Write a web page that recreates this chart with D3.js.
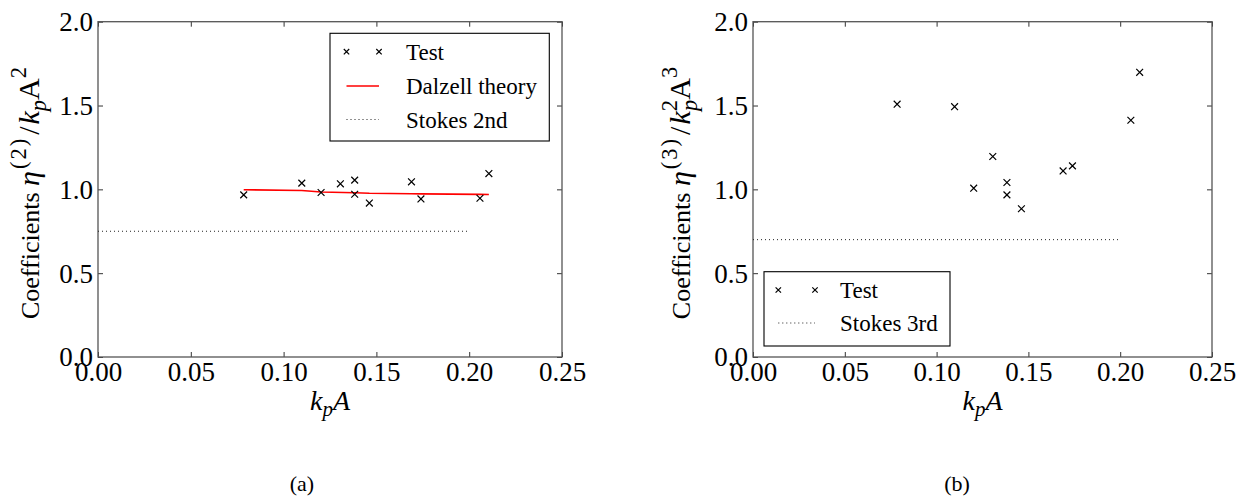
<!DOCTYPE html>
<html><head><meta charset="utf-8">
<script src="https://cdn.jsdelivr.net/npm/d3@7"></script>
</head><body style="margin:0">
<svg id="c" width="1255" height="500" font-family="Liberation Serif"></svg>
<script>
// ---- data ----
const kpA   = [0.0785,0.1098,0.1202,0.1306,0.1383,0.1383,0.1462,0.1689,0.1740,0.2058,0.2106];
const coef2 = [0.967,1.037,0.981,1.033,1.055,0.971,0.918,1.045,0.943,0.947,1.094];
const coef3 = [1.508,1.493,1.007,1.196,1.041,0.967,0.884,1.110,1.140,1.412,1.698];
const dalzellX = [0.0785,0.1098,0.1202,0.1383,0.1462,0.1689,0.1740,0.2058,0.2106];
const dalzellY = [0.998,0.993,0.984,0.980,0.977,0.974,0.973,0.970,0.969];
const stokesX  = [0.0,0.2];
const stokes2Y = [0.75,0.75];
const stokes3Y = [0.70,0.70];
const xTicks = [0,0.05,0.10,0.15,0.20,0.25];
const xTickLabels = ["0.00","0.05","0.10","0.15","0.20","0.25"];
const yTicks = [0,0.5,1.0,1.5,2.0];
const yTickLabels = ["0.0","0.5","1.0","1.5","2.0"];

const FONT = "Liberation Serif";
const svg = d3.select("#c");
const TICK = 27, LEG = 23, LAB = 26, MATH = 30, TL = 5;

// segments: t text, it italic, sh sup/sub, m use math size, dx shift, ls letter spacing
function rich(sel, segs, size){
  let cur = 0;
  segs.forEach(s=>{
    const base = s.m ? MATH : size;
    let target = 0, fs = base;
    if (s.sh==="sup"){target=-0.45*base; fs=base*0.75;}
    if (s.sh==="sub"){target=0.22*base; fs=base*0.75;}
    const t = sel.append("tspan").text(s.t).attr("font-size",fs).attr("dy", target-cur);
    if (s.it) t.attr("font-style","italic");
    if (s.dx) t.attr("dx", s.dx);
    if (s.ls) t.attr("letter-spacing", s.ls);
    cur = target;
  });
}

function panel(opt){
  const x = d3.scaleLinear().domain([0,0.25]).range([opt.x0,opt.x1]);
  const y = d3.scaleLinear().domain([0,2]).range([357,21.7]);
  const g = svg.append("g");

  const ab = g.append("g").attr("transform",`translate(0,${y(0)})`)
    .call(d3.axisBottom(x).tickValues(xTicks).tickFormat((d,i)=>xTickLabels[i])
      .tickSizeInner(-TL).tickSizeOuter(0));
  g.append("g").attr("transform",`translate(0,${y(2)})`)
    .call(d3.axisTop(x).tickValues(xTicks).tickFormat("").tickSizeInner(-TL).tickSizeOuter(0));
  const al = g.append("g").attr("transform",`translate(${x(0)},0)`)
    .call(d3.axisLeft(y).tickValues(yTicks).tickFormat((d,i)=>yTickLabels[i])
      .tickSizeInner(-TL).tickSizeOuter(0).tickPadding(5));
  g.append("g").attr("transform",`translate(${x(0.25)},0)`)
    .call(d3.axisRight(y).tickValues(yTicks).tickFormat("").tickSizeInner(-TL).tickSizeOuter(0));
  g.selectAll("g").attr("font-family",FONT).attr("font-size",TICK);
  ab.selectAll("text").attr("y",23.5).attr("dy",0);
  al.selectAll("text").attr("dy","0.33em");
  g.selectAll(".domain").remove();
  g.selectAll(".tick line").attr("stroke","#333").attr("stroke-width",1);
  g.selectAll(".tick text").attr("fill","#000");

  g.append("rect").attr("x",x(0)).attr("y",y(2)).attr("width",x(0.25)-x(0)).attr("height",y(0)-y(2))
    .attr("fill","none").attr("stroke","#555").attr("stroke-width",1.3);

  g.append("path").datum(stokesX.map((d,i)=>[d,opt.stokesY[i]]))
    .attr("d",d3.line().x(d=>x(d[0])).y(d=>y(d[1])))
    .attr("fill","none").attr("stroke","#222").attr("stroke-width",1).attr("stroke-dasharray","1,3");

  if (opt.line){
    g.append("path").datum(opt.line[0].map((d,i)=>[d,opt.line[1][i]]))
      .attr("d",d3.line().x(d=>x(d[0])).y(d=>y(d[1])))
      .attr("fill","none").attr("stroke","#ff0000").attr("stroke-width",1.6);
  }

  const cross = (sel, s) => sel.append("path")
    .attr("d",`M${-s},${-s}L${s},${s}M${-s},${s}L${s},${-s}`)
    .attr("stroke","#000").attr("stroke-width",1.2).attr("fill","none");
  kpA.forEach((d,i)=>{
    cross(g.append("g").attr("transform",`translate(${x(d)},${y(opt.vals[i])})`),3.4);
  });

  const yl = g.append("text").attr("transform",`translate(${opt.ylx},193) rotate(-90)`)
    .attr("text-anchor","middle").attr("font-size",LAB);
  rich(yl, opt.ylab, LAB);

  const xl = g.append("text").attr("x",(x(0)+x(0.25))/2).attr("y",410)
    .attr("text-anchor","middle").attr("font-size",28);
  rich(xl,[{t:"k",it:1},{t:"p",it:1,sh:"sub"},{t:"A",it:1}],28);

  g.append("text").attr("x",opt.capx).attr("y",491).attr("text-anchor","middle")
    .attr("font-size",22).text(opt.cap);

  const L = opt.leg;
  g.append("rect").attr("x",L.x).attr("y",L.y).attr("width",L.w).attr("height",L.h)
    .attr("fill","#fff").attr("stroke","#000").attr("stroke-width",1.1);
  L.items.forEach((it,i)=>{
    const cy = L.rows[i];
    if (it.type==="m"){
      [L.m0,L.m1].forEach(mx=>{ cross(g.append("g").attr("transform",`translate(${mx},${cy})`),2.7); });
    } else {
      g.append("line").attr("x1",L.m0).attr("x2",L.m1).attr("y1",cy).attr("y2",cy)
        .attr("stroke",it.type==="r"?"#ff0000":"#222").attr("stroke-width",it.type==="r"?1.6:1)
        .attr("stroke-dasharray",it.type==="d"?"1,3":null);
    }
    g.append("text").attr("x",L.tx).attr("y",cy).attr("dy","0.35em").attr("font-size",LEG).text(it.label);
  });
}

panel({x0:98,x1:562,vals:coef2,stokesY:stokes2Y,line:[dalzellX,dalzellY],ylx:39,capx:302,cap:"(a)",
  ylab:[{t:"Coefficients "},{t:"η",it:1,m:1},{t:"(2)",sh:"sup",m:1,ls:2,dx:2},{t:"/",m:1,dx:2},{t:"k",it:1,m:1,dx:2},{t:"p",it:1,sh:"sub",m:1},{t:"A",m:1},{t:"2",sh:"sup",m:1}],
  leg:{x:330,y:33.3,w:219.3,h:107.7,rows:[51.7,86,119.5],m0:346.5,m1:379,tx:406,
    items:[{type:"m",label:"Test"},{type:"r",label:"Dalzell theory"},{type:"d",label:"Stokes 2nd"}]}});

panel({x0:753,x1:1212,vals:coef3,stokesY:stokes3Y,line:null,ylx:690,capx:957,cap:"(b)",
  ylab:[{t:"Coefficients "},{t:"η",it:1,m:1},{t:"(3)",sh:"sup",m:1,ls:2,dx:2},{t:"/",m:1,dx:2},{t:"k",it:1,m:1,dx:2},{t:"2",sh:"sup",m:1},{t:"p",it:1,sh:"sub",m:1,dx:-11},{t:"A",m:1},{t:"3",sh:"sup",m:1}],
  leg:{x:764,y:271.7,w:186,h:74.3,rows:[290,323],m0:778.3,m1:815,tx:840,
    items:[{type:"m",label:"Test"},{type:"d",label:"Stokes 3rd"}]}});
</script>
</body></html>
